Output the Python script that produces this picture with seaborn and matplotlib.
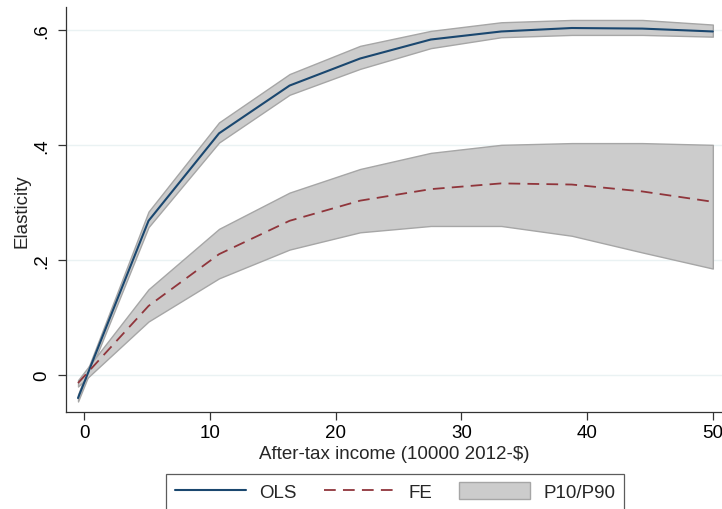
import numpy as np
import pandas as pd
import matplotlib
matplotlib.use("Agg")
import matplotlib.pyplot as plt
import seaborn as sns
from matplotlib.lines import Line2D
from matplotlib.patches import Patch

# Income grid (10000 2012-$)
income = [-0.5, 5.11, 10.72, 16.33, 21.94, 27.56, 33.17, 38.78, 44.39, 50.0]

# OLS elasticity and P10/P90 band
ols = [-0.040, 0.268, 0.420, 0.503, 0.550, 0.583, 0.597, 0.603, 0.602, 0.597]
ols_p10 = [-0.046, 0.257, 0.404, 0.487, 0.532, 0.568, 0.587, 0.591, 0.591, 0.588]
ols_p90 = [-0.034, 0.284, 0.439, 0.523, 0.572, 0.598, 0.613, 0.617, 0.617, 0.609]

# FE elasticity and P10/P90 band
fe = [-0.014, 0.120, 0.210, 0.268, 0.303, 0.323, 0.333, 0.331, 0.319, 0.301]
fe_p10 = [-0.020, 0.093, 0.168, 0.218, 0.248, 0.259, 0.259, 0.242, 0.213, 0.185]
fe_p90 = [-0.009, 0.149, 0.254, 0.317, 0.358, 0.386, 0.400, 0.403, 0.403, 0.400]

yticks = [0, 0.2, 0.4, 0.6]
ytick_labels = ["0", ".2", ".4", ".6"]
xticks = [0, 10, 20, 30, 40, 50]

df = pd.DataFrame({"income": income, "ols": ols, "fe": fe})

sns.set_theme(style="white")
plt.rcParams["font.family"] = ["Liberation Sans", "DejaVu Sans"]

BLUE = "#1a476f"
RED = "#90353b"
BAND = "#cccccc"
BAND_EDGE = "#a6a6a6"
GRID = "#eaf2f3"

fig = plt.figure(figsize=(7.22, 5.10), dpi=100)
ax = fig.add_axes([66 / 722, 1 - 413.3 / 510, 1 - 66 / 722, (413.3 - 8.3) / 510])

ax.set_xlim(-1.456, 50.73)
ax.set_ylim(-0.0648, 0.639)

for y in yticks:
    ax.axhline(y, color=GRID, lw=1.0, zorder=0)

ax.fill_between(income, ols_p10, ols_p90, facecolor=BAND, edgecolor=BAND_EDGE,
                linewidth=1.0, zorder=1)
ax.fill_between(income, fe_p10, fe_p90, facecolor=BAND, edgecolor=BAND_EDGE,
                linewidth=1.0, zorder=1)

sns.lineplot(data=df, x="income", y="ols", color=BLUE, linewidth=1.5, ax=ax, zorder=3)
sns.lineplot(data=df, x="income", y="fe", color=RED, linewidth=1.3, ax=ax, zorder=3,
             linestyle=(0, (6.5, 4)))

ax.set_xticks(xticks)
ax.set_xticklabels([str(x) for x in xticks])
ax.set_yticks(yticks)
ax.set_yticklabels(ytick_labels)
plt.setp(ax.get_yticklabels(), rotation=90, va="center")

ax.tick_params(axis="both", which="major", direction="out", length=5.5, width=0.9,
               color="#333333", labelsize=13.5, labelcolor="black", pad=3,
               left=True, bottom=True)
ax.tick_params(axis="y", pad=5.5)

for side in ["top", "right"]:
    ax.spines[side].set_visible(False)
for side in ["left", "bottom"]:
    ax.spines[side].set_color("#333333")
    ax.spines[side].set_linewidth(0.9)

ax.set_xlabel("After-tax income (10000 2012-$)", fontsize=13.5, labelpad=3)
ax.set_ylabel("Elasticity", fontsize=13.5, labelpad=2)

handles = [
    Line2D([0], [0], color=BLUE, lw=1.5),
    Line2D([0], [0], color=RED, lw=1.3, linestyle=(0, (6.5, 4))),
    Patch(facecolor=BAND, edgecolor=BAND_EDGE, linewidth=1.0),
]
leg = fig.legend(handles, ["OLS", "FE", "P10/P90"], loc="upper center",
                 bbox_to_anchor=(395 / 722, 1 - 475 / 510), ncol=3, fontsize=13.5,
                 frameon=True, fancybox=False, edgecolor="#333333",
                 handlelength=3.8, handleheight=1.0, handletextpad=0.7,
                 columnspacing=1.45, borderpad=0.45, borderaxespad=0)
leg.get_frame().set_linewidth(0.9)

fig.savefig("out.png", dpi=100)
